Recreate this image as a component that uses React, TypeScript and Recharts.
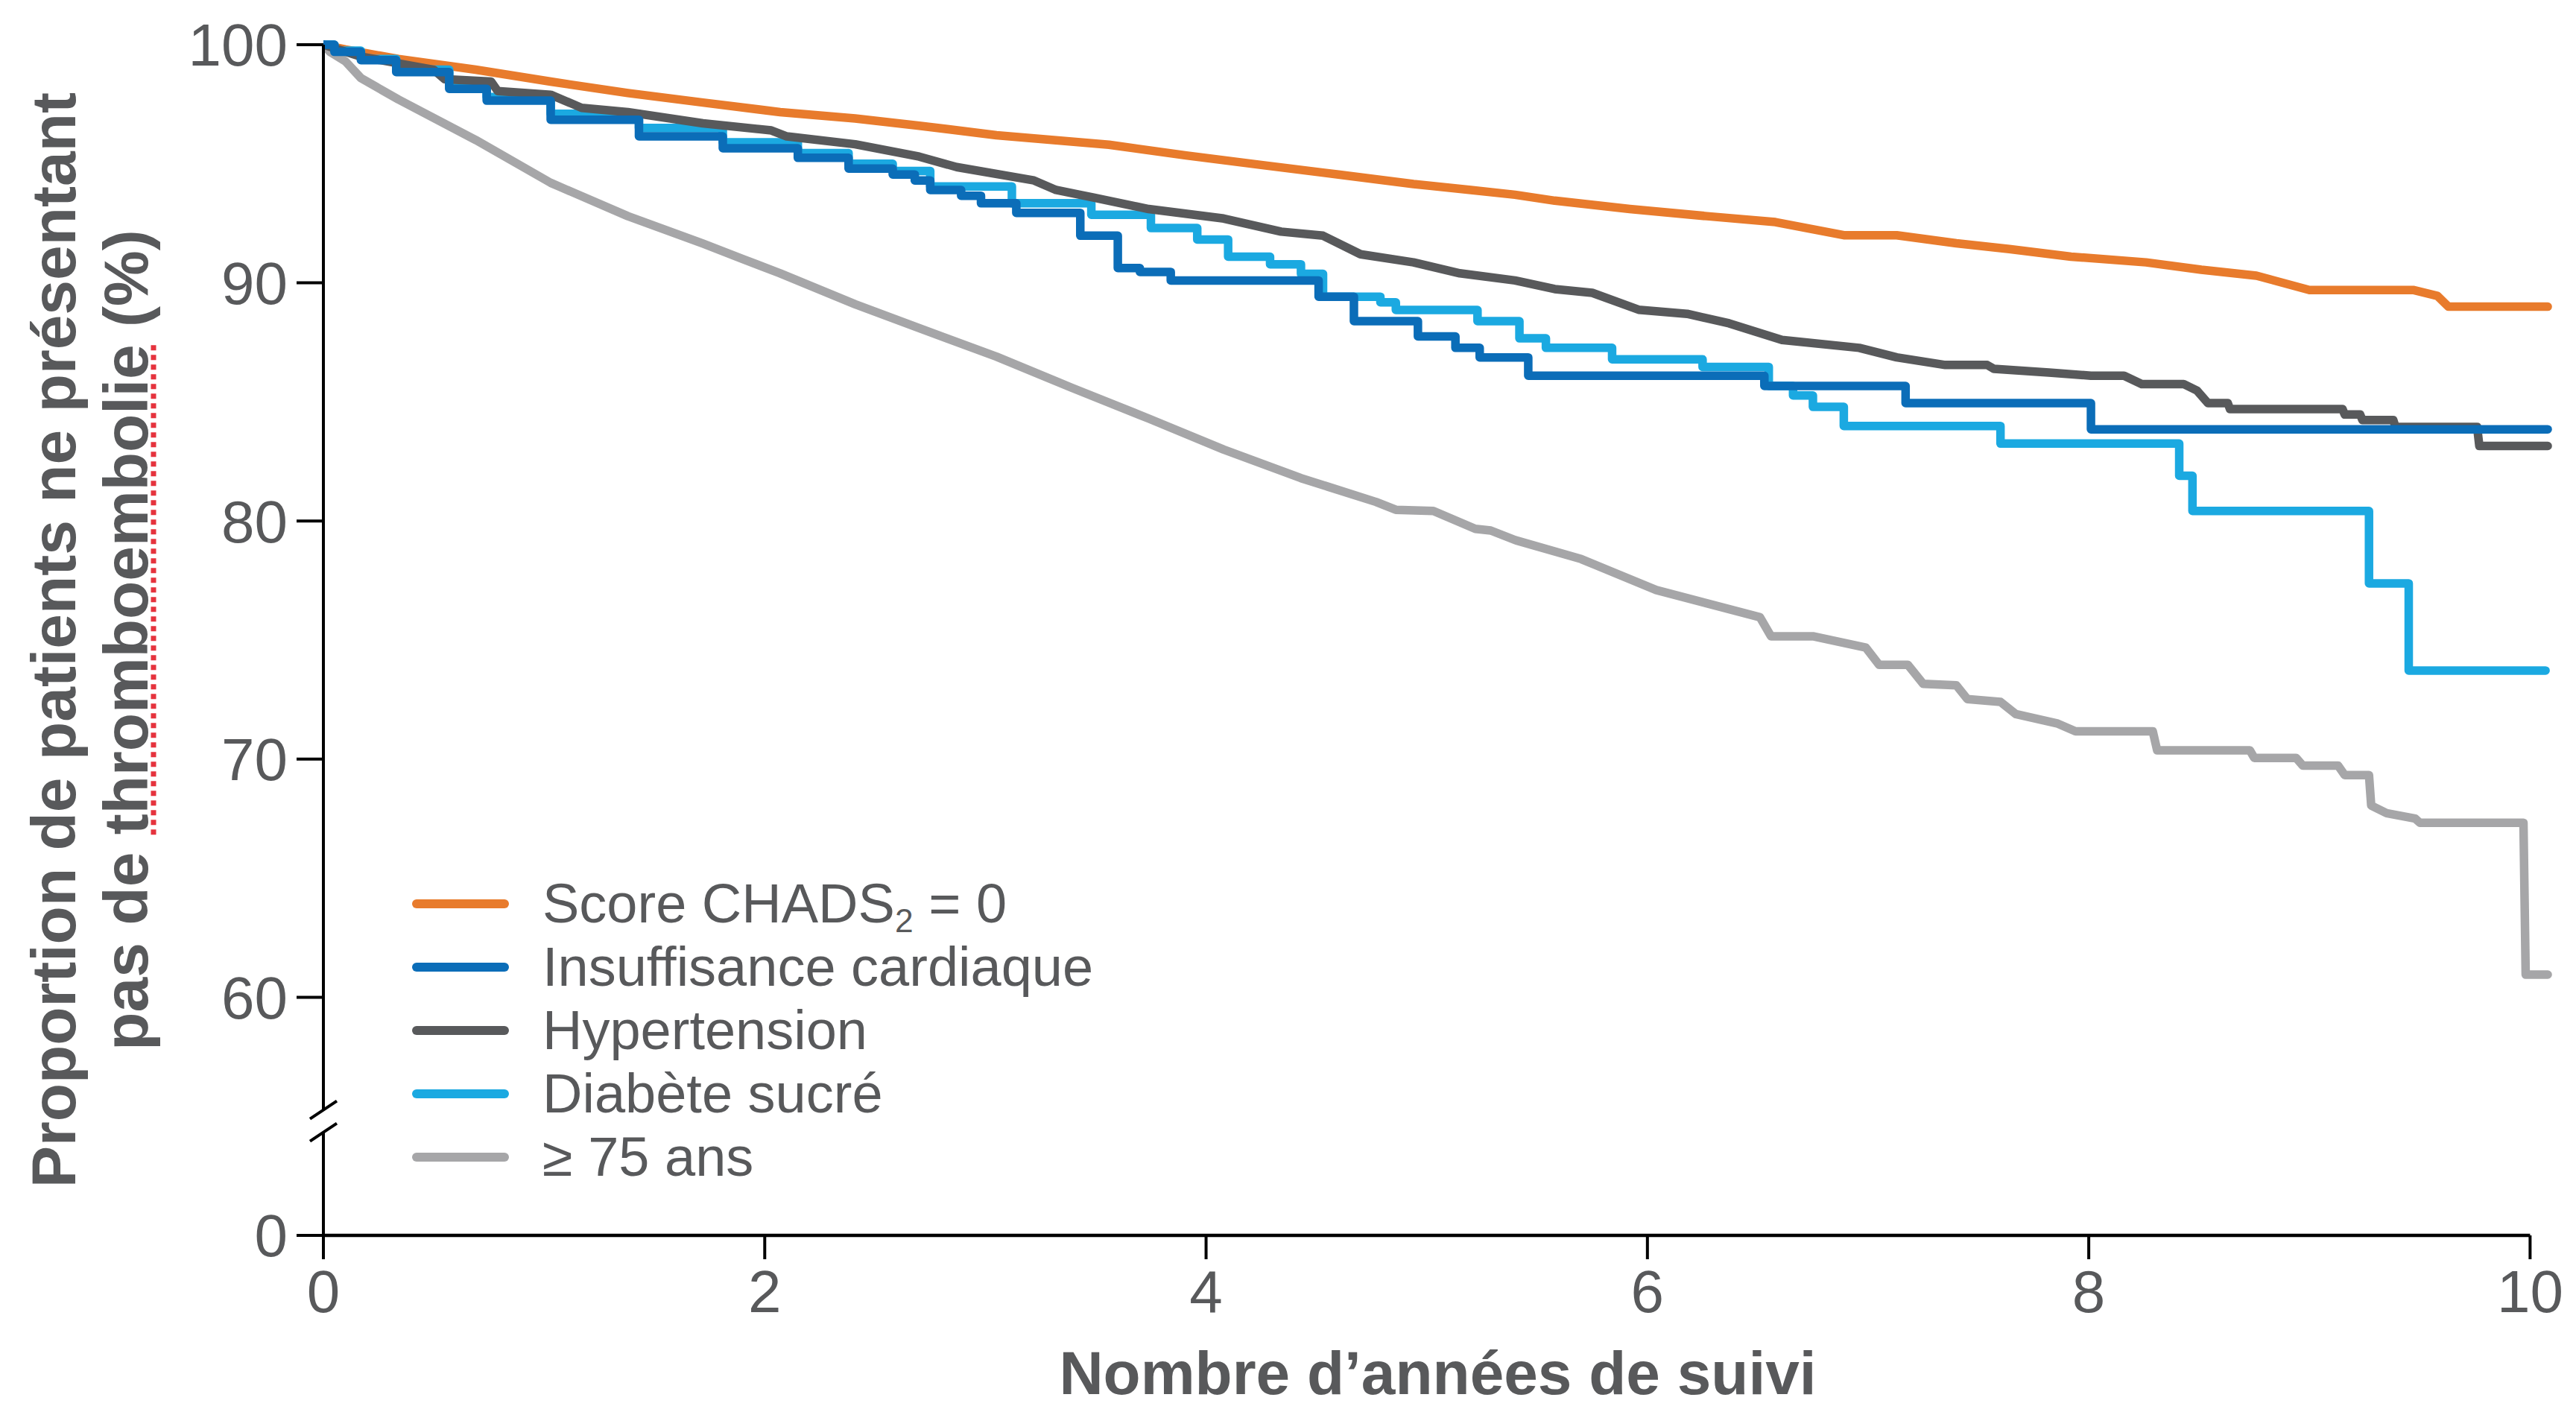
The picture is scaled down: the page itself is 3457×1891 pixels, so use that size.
import React from 'react';
import { LineChart, Line, XAxis, YAxis, Legend, ReferenceLine, ReferenceDot } from 'recharts';

const FONT = '"Liberation Sans", Arial, Helvetica, sans-serif';
const TEXT = '#58595b';

const xTicks = [0, 2, 4, 6, 8, 10];
const yTicks = [50, 60, 70, 80, 90, 100];
// the axis is broken below 60: the bottom tick stands for 0
const yTickLabels = ['0', '60', '70', '80', '90', '100'];

const seriesNames = ['Score CHADS₂ = 0', 'Insuffisance cardiaque', 'Hypertension', 'Diabète sucré', '≥ 75 ans'];
const seriesColors = ['#e87b2c', '#0b6db8', '#58595b', '#1ba9e1', '#a6a6a8'];

// [années de suivi, % sans thromboembolie]
const chads0 = [
  [0, 100], [0.1, 99.8], [0.34, 99.4], [0.69, 98.95], [1.03, 98.45], [1.38, 97.97], [1.72, 97.57],
  [2.07, 97.17], [2.41, 96.9], [2.7, 96.6], [3.05, 96.2], [3.56, 95.8], [3.91, 95.35], [4.25, 94.95],
  [4.6, 94.55], [4.94, 94.15], [5.2, 93.9], [5.4, 93.7], [5.58, 93.45], [5.92, 93.1], [6.27, 92.8],
  [6.58, 92.55], [6.89, 92.0], [7.13, 92.0], [7.4, 91.66], [7.64, 91.42], [7.92, 91.1], [8.26, 90.86],
  [8.51, 90.55], [8.76, 90.3], [9.0, 89.7], [9.47, 89.7], [9.58, 89.45], [9.63, 89.0], [10.08, 89.0],
];

const insuffisance = [
  [0, 100], [0.05, 99.7], [0.17, 99.35], [0.33, 98.85], [0.57, 98.15], [0.74, 97.65], [1.03, 96.85],
  [1.43, 96.15], [1.81, 95.65], [2.15, 95.25], [2.38, 94.8], [2.58, 94.55], [2.68, 94.3], [2.75, 93.9],
  [2.89, 93.66], [2.98, 93.34], [3.14, 92.94], [3.43, 91.98], [3.6, 90.62], [3.7, 90.46], [3.84, 90.1],
  [4.51, 89.42], [4.67, 88.39], [4.96, 87.75], [5.13, 87.27], [5.24, 86.87], [5.46, 86.1], [6.53, 85.67],
  [7.17, 84.95], [8.01, 83.85], [10.08, 83.85],
];

const hypertension = [
  [0, 100], [0.17, 99.5], [0.5, 98.95], [0.55, 98.55], [0.76, 98.45], [0.79, 98.05], [1.03, 97.9],
  [1.17, 97.35], [1.38, 97.17], [1.72, 96.7], [2.03, 96.4], [2.1, 96.15], [2.41, 95.82], [2.7, 95.3],
  [2.87, 94.86], [3.22, 94.3], [3.32, 93.9], [3.49, 93.58], [3.74, 93.1], [4.08, 92.7], [4.34, 92.15],
  [4.53, 91.98], [4.7, 91.2], [4.94, 90.86], [5.15, 90.4], [5.4, 90.1], [5.58, 89.74], [5.75, 89.58],
  [5.96, 88.87], [6.18, 88.7], [6.37, 88.3], [6.61, 87.6], [6.96, 87.27], [7.13, 86.87], [7.35, 86.55],
  [7.54, 86.55], [7.57, 86.39], [7.82, 86.23], [8.01, 86.1], [8.16, 86.1], [8.24, 85.75], [8.43, 85.75],
  [8.49, 85.48], [8.54, 84.95], [8.63, 84.95], [8.64, 84.7], [9.15, 84.7], [9.16, 84.47], [9.23, 84.47],
  [9.24, 84.24], [9.38, 84.24], [9.39, 83.95], [9.76, 83.95], [9.77, 83.15], [10.08, 83.15],
];

const diabete = [
  [0, 100], [0.05, 99.75], [0.17, 99.4], [0.33, 98.95], [0.57, 98.3], [0.74, 97.8], [1.03, 97.1],
  [1.43, 96.5], [1.81, 95.9], [2.15, 95.45], [2.38, 95.0], [2.58, 94.7], [2.75, 94.05], [3.12, 93.34],
  [3.48, 92.86], [3.75, 92.3], [3.96, 91.82], [4.1, 91.1], [4.29, 90.78], [4.43, 90.38], [4.53, 89.42],
  [4.79, 89.18], [4.86, 88.86], [5.23, 88.39], [5.42, 87.67], [5.54, 87.27], [5.84, 86.79], [6.25, 86.47],
  [6.55, 85.67], [6.66, 85.27], [6.75, 84.79], [6.89, 83.99], [7.6, 83.25], [8.41, 81.9], [8.47, 80.42],
  [9.27, 77.38], [9.45, 73.72], [10.07, 73.72],
];

const age75 = [
  [0, 100], [0.03, 99.7], [0.1, 99.3], [0.17, 98.6], [0.34, 97.7], [0.69, 96.0], [1.03, 94.2],
  [1.38, 92.8], [1.72, 91.65], [1.9, 91.0], [2.07, 90.4], [2.41, 89.1], [2.7, 88.1], [3.05, 86.9],
  [3.39, 85.6], [3.74, 84.3], [4.08, 83.0], [4.43, 81.8], [4.77, 80.8], [4.86, 80.47], [5.03, 80.42],
  [5.22, 79.67], [5.29, 79.6], [5.4, 79.2], [5.7, 78.4], [6.04, 77.1], [6.51, 75.96], [6.56, 75.16],
  [6.75, 75.16], [6.99, 74.68], [7.05, 73.96], [7.18, 73.96], [7.25, 73.16], [7.4, 73.1], [7.45, 72.52],
  [7.6, 72.4], [7.67, 71.89], [7.86, 71.49], [7.94, 71.17], [8.29, 71.17], [8.31, 70.37], [8.73, 70.37],
  [8.75, 70.05], [8.94, 70.05], [8.97, 69.73], [9.13, 69.73], [9.16, 69.33], [9.27, 69.33], [9.28, 68.05],
  [9.35, 67.73], [9.48, 67.5], [9.5, 67.33], [9.97, 67.33], [9.98, 60.95], [10.08, 60.95],
];

const toRows = (pts: number[][]) => pts.map(([t, v]) => ({ t, v }));

const YTitle = (props: any) => {
  const vb = props.viewBox || { x: 0, y: 60, width: 434, height: 1598 };
  const cy = vb.y + vb.height / 2;
  const fs = 84;
  // spell-check style dotted underline under "thromboembolie"
  const uStart = cy + fs * (13.113 / 2 - 3.446);
  const uEnd = uStart - fs * 7.834;
  return (
    <g>
      <text x={101} y={cy} transform={`rotate(-90, 101, ${cy})`} textAnchor="middle"
        fontSize={fs} fontWeight="bold" fill={TEXT} fontFamily={FONT}>
        Proportion de patients ne présentant
      </text>
      <text x={198} y={cy} transform={`rotate(-90, 198, ${cy})`} textAnchor="middle"
        fontSize={fs} fontWeight="bold" fill={TEXT} fontFamily={FONT}>
        pas de thromboembolie (%)
      </text>
      <line x1={206} y1={uStart} x2={206} y2={uEnd} stroke="#e5333d" strokeWidth={7} strokeDasharray="7 6" />
    </g>
  );
};

const XTitle = (props: any) => {
  const vb = props.viewBox || { x: 434, y: 1658, width: 2991, height: 233 };
  return (
    <text x={vb.x + vb.width / 2} y={vb.y + 213} textAnchor="middle" fontSize={82}
      fontWeight="bold" fill={TEXT} fontFamily={FONT}>
      Nombre d’années de suivi
    </text>
  );
};

const BreakMark = (props: any) => {
  const { cx, cy } = props;
  return (
    <g>
      <rect x={cx - 10} y={cy - 15} width={20} height={30} fill="#fff" />
      <line x1={cx - 18} y1={cy - 3} x2={cx + 18} y2={cy - 27} stroke="#000" strokeWidth={4} />
      <line x1={cx - 18} y1={cy + 27} x2={cx + 18} y2={cy + 3} stroke="#000" strokeWidth={4} />
    </g>
  );
};

const renderLabel = (name: string) => {
  const i = name.indexOf('₂');
  if (i < 0) return name;
  return (
    <>
      {name.slice(0, i)}
      <sub style={{ fontSize: '0.6em', verticalAlign: '-0.3em', lineHeight: 0 }}>2</sub>
      {name.slice(i + 1)}
    </>
  );
};

const LegendBox = (props: any) => {
  const items = [...(props.payload || [])].sort(
    (a: any, b: any) => seriesNames.indexOf(a.value) - seriesNames.indexOf(b.value),
  );
  return (
    <div style={{ fontFamily: FONT }}>
      {items.map((it: any) => (
        <div key={it.value} style={{ display: 'flex', alignItems: 'center', height: 85 }}>
          <div style={{ width: 130, height: 12, borderRadius: 6, background: it.color, marginRight: 45 }} />
          <span style={{ fontSize: 74, color: TEXT, lineHeight: 1, whiteSpace: 'nowrap' }}>{renderLabel(it.value)}</span>
        </div>
      ))}
    </div>
  );
};

const lineProps = {
  type: 'linear' as const,
  dataKey: 'v',
  strokeWidth: 11.5,
  dot: false,
  activeDot: false,
  isAnimationActive: false,
  strokeLinecap: 'round' as const,
  strokeLinejoin: 'round' as const,
};

export default function App() {
  return (
    <div style={{ position: 'absolute', left: 0, top: 0, width: 3457, height: 1891, background: '#fff' }}>
      <LineChart width={3457} height={1891} margin={{ top: 60, right: 32, bottom: 0, left: 0 }}
        style={{ fontFamily: FONT }}>
        <XAxis dataKey="t" type="number" domain={[0, 10.1]} allowDataOverflow ticks={xTicks}
          height={233} axisLine={false} tickSize={32} tickMargin={14}
          tickLine={{ stroke: '#000', strokeWidth: 4 }}
          tick={{ fill: TEXT, fontSize: 80, fontFamily: FONT }}
          label={{ content: XTitle }} />
        <YAxis type="number" domain={[50, 100]} ticks={yTicks} width={434} interval={0}
          tickFormatter={(v: number) => yTickLabels[yTicks.indexOf(v)]}
          axisLine={{ stroke: '#000', strokeWidth: 4 }} tickSize={36} tickMargin={12}
          tickLine={{ stroke: '#000', strokeWidth: 4 }}
          tick={{ fill: TEXT, fontSize: 80, fontFamily: FONT }}
          label={{ content: YTitle }} />
        <ReferenceLine segment={[{ x: 0, y: 50 }, { x: 10, y: 50 }]} stroke="#000" strokeWidth={4.5} />
        <Line {...lineProps} data={toRows(age75)} name={seriesNames[4]} stroke={seriesColors[4]} />
        <Line {...lineProps} data={toRows(chads0)} name={seriesNames[0]} stroke={seriesColors[0]} />
        <Line {...lineProps} type="stepAfter" data={toRows(diabete)} name={seriesNames[3]} stroke={seriesColors[3]} />
        <Line {...lineProps} data={toRows(hypertension)} name={seriesNames[2]} stroke={seriesColors[2]} />
        <Line {...lineProps} type="stepAfter" data={toRows(insuffisance)} name={seriesNames[1]} stroke={seriesColors[1]} />
        <ReferenceDot x={0} y={54.8} r={0} ifOverflow="visible" shape={BreakMark} />
        <Legend layout="vertical" align="center" verticalAlign="middle" content={LegendBox}
          wrapperStyle={{ left: 553, top: 1170, width: 1000 }} />
      </LineChart>
    </div>
  );
}
